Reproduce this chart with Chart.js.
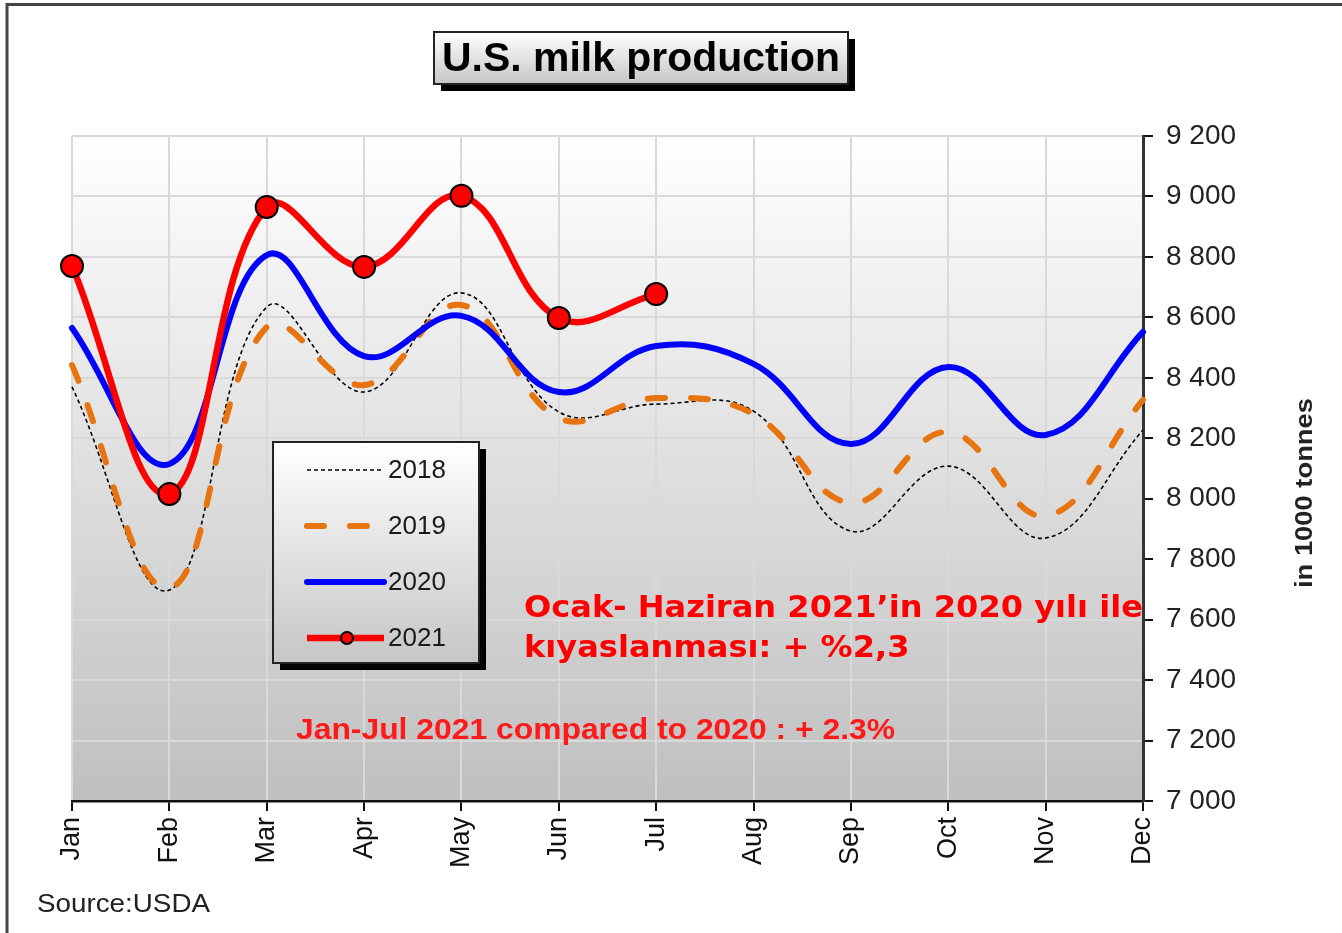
<!DOCTYPE html>
<html lang="en">
<head>
  <meta charset="UTF-8" />
  <title>U.S. milk production</title>
  <script src="https://cdn.jsdelivr.net/npm/chart.js"></script>
  <style>
    * { margin: 0; padding: 0; box-sizing: border-box; }
    body { background: #fff; width: 1342px; height: 933px; overflow: hidden; }
    #chart { display: block; }
  </style>
</head>
<body>
  <canvas id="chart" width="1342" height="933"></canvas>
  <script>
    // Data (in 1000 tonnes)
    const months = ['Jan', 'Feb', 'Mar', 'Apr', 'May', 'Jun', 'Jul', 'Aug', 'Sep', 'Oct', 'Nov', 'Dec'];
    const milk2018 = [8370, 7698, 8634, 8353, 8681, 8287, 8313, 8290, 7893, 8108, 7870, 8227];
    const milk2019 = [8442, 7705, 8568, 8376, 8641, 8267, 8333, 8280, 7986, 8221, 7943, 8327];
    const milk2020 = [8565, 8115, 8806, 8472, 8605, 8353, 8505, 8446, 8181, 8436, 8211, 8552];
    const milk2021 = [8770, 8016, 8965, 8767, 9002, 8598, 8677];
    const yMin = 7000, yMax = 9200, yStep = 200;

    const ORANGE = '#e8740f';
    const GRID = '#d9d9d9';

    function fitText(ctx, text, x, y, w) {
      const m = ctx.measureText(text).width;
      ctx.save();
      ctx.translate(x, y);
      ctx.scale(w / m, 1);
      ctx.fillText(text, 0, 0);
      ctx.restore();
      return w / m;
    }

    function shadowBox(ctx, x, y, w, h) {
      ctx.fillStyle = '#000';
      ctx.fillRect(x + 7, y + 7, w, h);
      const g = ctx.createLinearGradient(0, y, 0, y + h);
      g.addColorStop(0, '#ffffff');
      g.addColorStop(1, '#c6c6c6');
      ctx.fillStyle = g;
      ctx.fillRect(x, y, w, h);
      ctx.strokeStyle = '#222';
      ctx.lineWidth = 2;
      ctx.strokeRect(x, y, w, h);
    }

    const decor = {
      id: 'decor',
      beforeDraw(chart) {
        const ctx = chart.ctx, a = chart.chartArea;
        ctx.save();
        ctx.fillStyle = '#fff';
        ctx.fillRect(0, 0, chart.width, chart.height);
        // plot gradient
        const g = ctx.createLinearGradient(0, a.top, 0, a.bottom);
        g.addColorStop(0, '#ffffff');
        g.addColorStop(1, '#bfbfbf');
        ctx.fillStyle = g;
        ctx.fillRect(a.left, a.top, a.right - a.left, a.bottom - a.top);
        // outer frame
        ctx.strokeStyle = '#444';
        ctx.lineWidth = 3;
        ctx.beginPath();
        ctx.moveTo(chart.width, 4.5);
        ctx.lineTo(7, 4.5);
        ctx.lineTo(7, chart.height);
        ctx.stroke();
        ctx.restore();
      },
      afterDraw(chart) {
        const ctx = chart.ctx;
        ctx.save();

        // title box
        shadowBox(ctx, 434, 32, 414, 52);
        ctx.fillStyle = '#000';
        ctx.font = 'bold 41px "Liberation Sans", Arial, sans-serif';
        ctx.textAlign = 'center';
        ctx.textBaseline = 'middle';
        fitText(ctx, 'U.S. milk production', 641, 60, 398);

        // legend box
        shadowBox(ctx, 273, 442, 206, 221);
        const rows = [470, 526, 582, 638];
        const dsOrder = [3, 2, 1, 0];
        ctx.font = '26px "Liberation Sans", Arial, sans-serif';
        ctx.textAlign = 'left';
        rows.forEach((ry, i) => {
          const ds = chart.data.datasets[dsOrder[i]];
          ctx.save();
          ctx.strokeStyle = ds.borderColor;
          ctx.lineWidth = ds.borderWidth;
          ctx.lineCap = ds.borderCapStyle || 'butt';
          ctx.setLineDash(ds.borderDash || []);
          ctx.beginPath();
          ctx.moveTo(307, ry);
          ctx.lineTo(384, ry);
          ctx.stroke();
          ctx.restore();
          if (ds.pointRadius) {
            ctx.beginPath();
            ctx.arc(347, ry, 6, 0, Math.PI * 2);
            ctx.fillStyle = ds.pointBackgroundColor;
            ctx.fill();
            ctx.lineWidth = 2;
            ctx.strokeStyle = '#000';
            ctx.stroke();
          }
          ctx.fillStyle = '#1a1a1a';
          ctx.fillText(ds.label, 388, ry + 1);
        });

        // annotations
        ctx.fillStyle = '#ff0000';
        ctx.textAlign = 'left';
        ctx.textBaseline = 'middle';
        ctx.font = 'bold 31px "DejaVu Sans", Verdana, sans-serif';
        const sx = fitText(ctx, 'Ocak- Haziran 2021\u2019in 2020 yılı ile', 524, 609, 619);
        const t2 = 'kıyaslanması: + %2,3';
        fitText(ctx, t2, 524, 649, ctx.measureText(t2).width * sx);

        ctx.fillStyle = '#ff1a1a';
        ctx.font = 'bold 29px "Liberation Sans", Arial, sans-serif';
        fitText(ctx, 'Jan-Jul 2021 compared to 2020 : + 2.3%', 296, 731, 599);

        // source
        ctx.fillStyle = '#222';
        ctx.font = '25px "Liberation Sans", Arial, sans-serif';
        fitText(ctx, 'Source:USDA', 37, 905, 173);

        // y axis title
        ctx.save();
        ctx.translate(1306, 493);
        ctx.rotate(-Math.PI / 2);
        ctx.textAlign = 'left';
        ctx.font = 'bold 23px "Liberation Sans", Arial, sans-serif';
        fitText(ctx, 'in 1000 tonnes', -95, 0, 190);
        ctx.restore();

        ctx.restore();
      }
    };

    const ctx = document.getElementById('chart').getContext('2d');
    new Chart(ctx, {
      type: 'line',
      data: {
        labels: months,
        datasets: [
          { label: '2021', data: milk2021, borderColor: '#ff0000', borderWidth: 6.5,
            pointRadius: 11, pointBackgroundColor: '#ff0000', pointBorderColor: '#000',
            pointBorderWidth: 2, order: 0 },
          { label: '2020', data: milk2020, borderColor: '#0000ff', borderWidth: 6,
            borderCapStyle: 'round', pointRadius: 0, order: 1 },
          { label: '2019', data: milk2019, borderColor: ORANGE, borderWidth: 6,
            borderDash: [17, 26], borderCapStyle: 'round', pointRadius: 0, order: 2 },
          { label: '2018', data: milk2018, borderColor: '#000', borderWidth: 1.6,
            borderDash: [4, 3], pointRadius: 0, order: 3 }
        ]
      },
      options: {
        responsive: false,
        animation: false,
        devicePixelRatio: 1,
        layout: { padding: { left: 72, top: 136, right: 0, bottom: 0 } },
        elements: { line: { tension: 0.4, fill: false } },
        datasets: { line: { clip: false } },
        plugins: { legend: { display: false }, tooltip: { enabled: false } },
        scales: {
          x: {
            offset: false,
            afterFit(s) { s.height = 933 - 801; },
            grid: { color: GRID, lineWidth: 2, tickColor: '#111', tickLength: 10, drawOnChartArea: true },
            border: { color: '#111', width: 2.5 },
            ticks: {
              color: '#111', minRotation: 90, maxRotation: 90, padding: 6,
              font: { family: '"Liberation Sans", Arial, sans-serif', size: 27 }
            }
          },
          y: {
            position: 'right',
            min: yMin, max: yMax,
            afterFit(s) { s.width = 1342 - 1143; },
            grid: { color: GRID, lineWidth: 2, tickColor: '#111', tickLength: 10 },
            border: { color: '#333', width: 3 },
            ticks: {
              stepSize: yStep, color: '#222', padding: 13,
              font: { family: '"Liberation Sans", Arial, sans-serif', size: 28 },
              callback: v => String(v).replace(/\B(?=(\d{3})+(?!\d))/g, ' ')
            }
          }
        }
      },
      plugins: [decor]
    });
  </script>
</body>
</html>
